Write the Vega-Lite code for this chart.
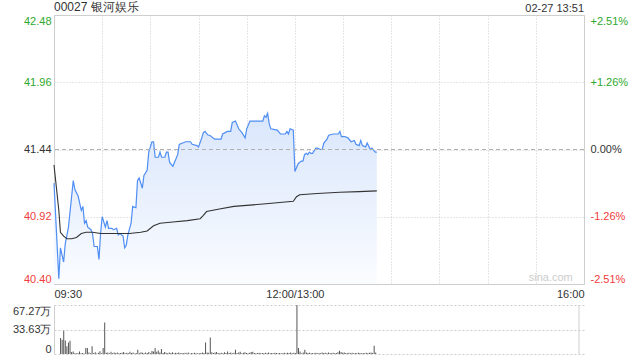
{
  "$schema": "https://vega.github.io/schema/vega-lite/v6.json",
  "padding": {"left": 12, "top": 0, "right": 10, "bottom": 4},
  "background": "white",
  "bounds": "flush",
  "spacing": 21,
  "config": {
    "font": "Liberation Sans",
    "view": {"stroke": "#cfcfcf"},
    "axis": {"labelFont": "Liberation Sans", "labelFontSize": 11, "labelColor": "#333", "ticks": false, "domain": false, "title": null, "gridColor": "#cccccc", "gridDash": [1, 2]}
  },
  "datasets": {
    "one": [{"k": 1}],
    "price": [
      {"m":0,"p":41.18},{"m":3,"p":40.44},{"m":4,"p":40.68},{"m":6,"p":40.57},{"m":7,"p":40.71},{"m":9,"p":40.84},{"m":12,"p":41.20},{"m":13,"p":41.13},{"m":15,"p":41.08},{"m":17,"p":40.97},{"m":18,"p":41.00},{"m":19,"p":40.87},{"m":20,"p":40.89},{"m":21,"p":40.84},{"m":23,"p":40.82},{"m":24,"p":40.79},{"m":25,"p":40.69},{"m":27,"p":40.69},{"m":28,"p":40.59},{"m":29,"p":40.79},{"m":30,"p":40.92},{"m":32,"p":40.84},{"m":33,"p":40.89},{"m":34,"p":40.83},{"m":36,"p":40.83},{"m":37,"p":40.82},{"m":39,"p":40.83},{"m":40,"p":40.78},{"m":41,"p":40.79},{"m":43,"p":40.77},{"m":44,"p":40.68},{"m":45,"p":40.70},{"m":46,"p":40.78},{"m":48,"p":40.87},{"m":49,"p":41.00},{"m":51,"p":40.99},{"m":52,"p":41.20},{"m":53,"p":41.22},{"m":55,"p":41.14},{"m":56,"p":41.24},{"m":58,"p":41.28},{"m":59,"p":41.42},{"m":61,"p":41.50},{"m":62,"p":41.50},{"m":63,"p":41.38},{"m":65,"p":41.38},{"m":66,"p":41.42},{"m":67,"p":41.38},{"m":69,"p":41.38},{"m":70,"p":41.42},{"m":71,"p":41.42},{"m":72,"p":41.34},{"m":74,"p":41.31},{"m":75,"p":41.34},{"m":77,"p":41.40},{"m":78,"p":41.48},{"m":80,"p":41.49},{"m":82,"p":41.50},{"m":85,"p":41.50},{"m":86,"p":41.48},{"m":89,"p":41.47},{"m":90,"p":41.46},{"m":92,"p":41.53},{"m":93,"p":41.57},{"m":94,"p":41.58},{"m":96,"p":41.55},{"m":97,"p":41.55},{"m":100,"p":41.52},{"m":104,"p":41.52},{"m":105,"p":41.56},{"m":108,"p":41.58},{"m":110,"p":41.58},{"m":111,"p":41.65},{"m":113,"p":41.66},{"m":115,"p":41.60},{"m":117,"p":41.57},{"m":119,"p":41.53},{"m":120,"p":41.60},{"m":122,"p":41.66},{"m":126,"p":41.66},{"m":130,"p":41.66},{"m":131,"p":41.70},{"m":132,"p":41.69},{"m":133,"p":41.72},{"m":134,"p":41.64},{"m":135,"p":41.60},{"m":139,"p":41.59},{"m":141,"p":41.56},{"m":144,"p":41.56},{"m":145,"p":41.58},{"m":146,"p":41.56},{"m":147,"p":41.60},{"m":149,"p":41.59},{"m":150,"p":41.27},{"m":152,"p":41.33},{"m":154,"p":41.35},{"m":155,"p":41.35},{"m":156,"p":41.40},{"m":157,"p":41.41},{"m":158,"p":41.40},{"m":159,"p":41.42},{"m":160,"p":41.41},{"m":161,"p":41.41},{"m":163,"p":41.45},{"m":164,"p":41.45},{"m":166,"p":41.44},{"m":167,"p":41.44},{"m":168,"p":41.49},{"m":170,"p":41.52},{"m":171,"p":41.55},{"m":174,"p":41.56},{"m":177,"p":41.56},{"m":178,"p":41.58},{"m":179,"p":41.54},{"m":181,"p":41.54},{"m":183,"p":41.53},{"m":185,"p":41.50},{"m":187,"p":41.51},{"m":188,"p":41.48},{"m":190,"p":41.47},{"m":191,"p":41.51},{"m":192,"p":41.47},{"m":194,"p":41.46},{"m":195,"p":41.49},{"m":197,"p":41.44},{"m":198,"p":41.45},{"m":200,"p":41.42},{"m":201,"p":41.42}
    ],
    "avg": [
      {"m":0,"a":41.32},{"m":3,"a":40.97},{"m":4,"a":40.80},{"m":6,"a":40.77},{"m":8,"a":40.75},{"m":11,"a":40.75},{"m":14,"a":40.76},{"m":17,"a":40.79},{"m":20,"a":40.80},{"m":24,"a":40.80},{"m":29,"a":40.79},{"m":47,"a":40.79},{"m":54,"a":40.80},{"m":58,"a":40.81},{"m":62,"a":40.85},{"m":66,"a":40.87},{"m":74,"a":40.88},{"m":83,"a":40.89},{"m":91,"a":40.905},{"m":93,"a":40.93},{"m":95,"a":40.96},{"m":103,"a":40.98},{"m":112,"a":41.00},{"m":122,"a":41.01},{"m":132,"a":41.02},{"m":149,"a":41.04},{"m":151,"a":41.075},{"m":153,"a":41.09},{"m":164,"a":41.10},{"m":178,"a":41.11},{"m":190,"a":41.114},{"m":201,"a":41.12}
    ],
    "vol": [
      {"m":1,"v":21.8},{"m":2,"v":19.6},{"m":3,"v":31.8},{"m":4,"v":18.6},{"m":5,"v":10.5},{"m":6,"v":15.9},{"m":7,"v":18.2},{"m":8,"v":2.7},{"m":9,"v":3.6},{"m":10,"v":1.2},
      {"m":11,"v":0.9},{"m":12,"v":1.5},{"m":13,"v":3.6},{"m":14,"v":1.1},{"m":15,"v":1.3},{"m":16,"v":0.8},{"m":17,"v":8.2},{"m":18,"v":8.2},{"m":19,"v":2.1},{"m":20,"v":1.0},
      {"m":21,"v":10.5},{"m":22,"v":1.4},{"m":23,"v":2.4},{"m":24,"v":0.7},{"m":25,"v":1.6},{"m":26,"v":3.8},{"m":27,"v":1.2},{"m":28,"v":8.2},{"m":29,"v":43.2},{"m":30,"v":1.6},
      {"m":31,"v":2.0},{"m":32,"v":1.1},{"m":33,"v":3.0},{"m":34,"v":1.0},{"m":35,"v":2.2},{"m":36,"v":1.3},{"m":37,"v":2.0},{"m":38,"v":0.9},{"m":39,"v":1.5},{"m":40,"v":1.8},
      {"m":41,"v":2.6},{"m":42,"v":1.2},{"m":43,"v":1.7},{"m":44,"v":1.0},{"m":45,"v":3.2},{"m":46,"v":1.4},{"m":47,"v":2.2},{"m":48,"v":0.8},{"m":49,"v":1.3},{"m":50,"v":5.9},
      {"m":51,"v":1.1},{"m":52,"v":2.3},{"m":53,"v":1.6},{"m":54,"v":1.0},{"m":55,"v":2.0},{"m":56,"v":1.4},{"m":57,"v":2.7},{"m":58,"v":1.2},{"m":59,"v":4.1},{"m":60,"v":3.5},
      {"m":61,"v":8.2},{"m":62,"v":3.0},{"m":63,"v":4.8},{"m":64,"v":2.1},{"m":65,"v":6.8},{"m":66,"v":1.5},{"m":67,"v":2.6},{"m":68,"v":1.8},{"m":69,"v":1.2},{"m":70,"v":2.0},
      {"m":71,"v":1.5},{"m":72,"v":2.4},{"m":73,"v":1.0},{"m":74,"v":1.8},{"m":75,"v":1.3},{"m":76,"v":2.2},{"m":77,"v":0.9},{"m":78,"v":1.4},{"m":79,"v":1.1},{"m":80,"v":1.7},
      {"m":81,"v":1.0},{"m":82,"v":2.0},{"m":83,"v":0.8},{"m":84,"v":1.3},{"m":85,"v":1.1},{"m":86,"v":1.6},{"m":87,"v":1.0},{"m":88,"v":1.2},{"m":89,"v":0.9},{"m":90,"v":1.4},
      {"m":91,"v":2.0},{"m":92,"v":1.5},{"m":93,"v":15.9},{"m":94,"v":2.2},{"m":95,"v":1.6},{"m":96,"v":22.7},{"m":97,"v":2.4},{"m":98,"v":1.5},{"m":99,"v":1.9},{"m":100,"v":2.8},
      {"m":101,"v":1.4},{"m":102,"v":1.0},{"m":103,"v":1.8},{"m":104,"v":1.2},{"m":105,"v":2.3},{"m":106,"v":1.4},{"m":107,"v":3.6},{"m":108,"v":1.3},{"m":109,"v":2.0},{"m":110,"v":1.1},
      {"m":111,"v":1.6},{"m":112,"v":5.9},{"m":113,"v":1.5},{"m":114,"v":2.1},{"m":115,"v":3.2},{"m":116,"v":1.2},{"m":117,"v":1.8},{"m":118,"v":2.5},{"m":119,"v":1.3},{"m":120,"v":1.0},
      {"m":121,"v":1.8},{"m":122,"v":2.6},{"m":123,"v":3.0},{"m":124,"v":1.5},{"m":125,"v":1.0},{"m":126,"v":1.3},{"m":127,"v":1.8},{"m":128,"v":1.1},{"m":129,"v":1.4},{"m":130,"v":1.0},
      {"m":131,"v":1.6},{"m":132,"v":1.2},{"m":133,"v":2.0},{"m":134,"v":0.9},{"m":135,"v":1.4},{"m":136,"v":1.1},{"m":137,"v":1.7},{"m":138,"v":1.3},{"m":139,"v":1.0},{"m":140,"v":1.5},
      {"m":141,"v":1.2},{"m":142,"v":0.9},{"m":143,"v":1.6},{"m":144,"v":1.1},{"m":145,"v":1.8},{"m":146,"v":1.3},{"m":147,"v":2.0},{"m":148,"v":1.2},{"m":149,"v":1.6},{"m":150,"v":1.4},
      {"m":151,"v":67.27},{"m":152,"v":8.2},{"m":153,"v":3.5},{"m":154,"v":1.2},{"m":155,"v":2.0},{"m":156,"v":5.9},{"m":157,"v":2.0},{"m":158,"v":1.3},{"m":159,"v":1.8},{"m":160,"v":1.0},
      {"m":161,"v":1.5},{"m":162,"v":1.2},{"m":163,"v":1.7},{"m":164,"v":1.1},{"m":165,"v":1.4},{"m":166,"v":1.0},{"m":167,"v":1.9},{"m":168,"v":1.3},{"m":169,"v":1.6},{"m":170,"v":1.0},
      {"m":171,"v":2.2},{"m":172,"v":1.4},{"m":173,"v":1.2},{"m":174,"v":1.8},{"m":175,"v":1.0},{"m":176,"v":1.5},{"m":177,"v":2.4},{"m":178,"v":4.5},{"m":179,"v":2.8},{"m":180,"v":1.6},
      {"m":181,"v":2.2},{"m":182,"v":1.3},{"m":183,"v":1.0},{"m":184,"v":1.6},{"m":185,"v":1.2},{"m":186,"v":1.8},{"m":187,"v":1.0},{"m":188,"v":1.4},{"m":189,"v":1.1},{"m":190,"v":1.7},
      {"m":191,"v":1.3},{"m":192,"v":1.0},{"m":193,"v":1.5},{"m":194,"v":1.2},{"m":195,"v":1.8},{"m":196,"v":1.0},{"m":197,"v":1.6},{"m":198,"v":2.0},{"m":199,"v":1.4},{"m":200,"v":11.4},
      {"m":201,"v":1.9}
    ]
  },
  "vconcat": [
    {
      "width": 530,
      "height": 269,
      "resolve": {"axis": {"y": "independent"}},
      "layer": [
        {
          "data": {"name": "price"},
          "mark": {"type": "area", "color": {"x1": 0, "y1": 0, "x2": 0, "y2": 1, "gradient": "linear", "stops": [{"offset": 0, "color": "#d9e6fb"}, {"offset": 1, "color": "#fafcff"}]}},
          "encoding": {
            "x": {"field": "m", "type": "quantitative", "scale": {"domain": [0, 330], "nice": false}, "axis": {"values": [0, 30, 60, 90, 120, 150, 180, 210, 240, 270, 300, 330], "grid": true, "labelFlush": true, "labelPadding": 4, "labelExpr": "datum.value == 0 ? '09:30' : datum.value == 150 ? '12:00/13:00' : datum.value == 330 ? '16:00' : ''"}},
            "y": {"field": "p", "type": "quantitative", "scale": {"domain": [40.40, 42.48], "nice": false, "zero": false}, "axis": {"orient": "left", "values": [40.40, 40.92, 41.44, 41.96, 42.48], "grid": true, "labelFlush": true, "labelPadding": 3, "format": ".2f", "labelColor": {"condition": [{"test": "datum.value > 41.45", "value": "#2ea82e"}, {"test": "datum.value < 41.43", "value": "#f03c3c"}], "value": "#333333"}}},
            "y2": {"datum": 40.40}
          }
        },
        {
          "data": {"name": "price"},
          "mark": {"type": "line", "color": "#4f8ef3", "strokeWidth": 1.2},
          "encoding": {
            "x": {"field": "m", "type": "quantitative"},
            "y": {"field": "p", "type": "quantitative", "axis": null}
          }
        },
        {
          "data": {"name": "avg"},
          "mark": {"type": "line", "color": "#333333", "strokeWidth": 1.1},
          "encoding": {
            "x": {"field": "m", "type": "quantitative"},
            "y": {"field": "a", "type": "quantitative", "axis": null}
          }
        },
        {
          "data": {"name": "one"},
          "mark": {"type": "rule", "color": "#b0b0b0", "strokeDash": [4, 3], "strokeWidth": 1},
          "encoding": {
            "y": {"datum": 41.44, "type": "quantitative", "axis": {"orient": "right", "values": [40.40, 40.92, 41.44, 41.96, 42.48], "labelFlush": true, "labelPadding": 6, "labelExpr": "datum.value > 42 ? '+2.51%' : datum.value > 41.5 ? '+1.26%' : datum.value > 41.4 ? '0.00%' : datum.value > 40.5 ? '-1.26%' : '-2.51%'", "labelColor": {"condition": [{"test": "datum.value > 41.45", "value": "#2ea82e"}, {"test": "datum.value < 41.43", "value": "#f03c3c"}], "value": "#333333"}}}
          }
        },
        {
          "data": {"name": "one"},
          "mark": {"type": "text", "text": "00027 银河娱乐", "align": "left", "baseline": "bottom", "dy": -1, "fontSize": 12, "color": "#333333"},
          "encoding": {"x": {"datum": 0, "type": "quantitative"}, "y": {"datum": 42.48, "type": "quantitative", "axis": null}}
        },
        {
          "data": {"name": "one"},
          "mark": {"type": "text", "text": "02-27 13:51", "align": "right", "baseline": "bottom", "dy": -1, "fontSize": 11, "color": "#333333"},
          "encoding": {"x": {"datum": 330, "type": "quantitative"}, "y": {"datum": 42.48, "type": "quantitative", "axis": null}}
        },
        {
          "data": {"name": "one"},
          "mark": {"type": "text", "text": "sina.com", "align": "right", "baseline": "bottom", "dy": -1, "fontSize": 11, "color": "#cccccc"},
          "encoding": {"x": {"datum": 323, "type": "quantitative"}, "y": {"datum": 40.40, "type": "quantitative", "axis": null}}
        }
      ]
    },
    {
      "width": 530,
      "height": 49,
      "view": {"stroke": null},
      "layer": [
        {
          "data": {"name": "vol"},
          "mark": {"type": "bar", "color": "#555555", "size": 1},
          "encoding": {
            "x": {"field": "m", "type": "quantitative", "scale": {"domain": [0, 330], "nice": false}, "axis": null},
            "y": {"field": "v", "type": "quantitative", "scale": {"domain": [0, 67.27], "nice": false}, "axis": {"values": [0, 33.63, 67.27], "grid": true, "gridDash": [2, 2], "domain": true, "domainColor": "#cfcfcf", "labelFlush": true, "labelPadding": 3, "labelExpr": "datum.value == 0 ? '0' : format(datum.value, '.2f') + '万'"}}
          }
        },
        {
          "data": {"name": "one"},
          "mark": {"type": "rule", "color": "#cfcfcf"},
          "encoding": {"x": {"datum": 330, "type": "quantitative"}}
        }
      ]
    }
  ]
}
